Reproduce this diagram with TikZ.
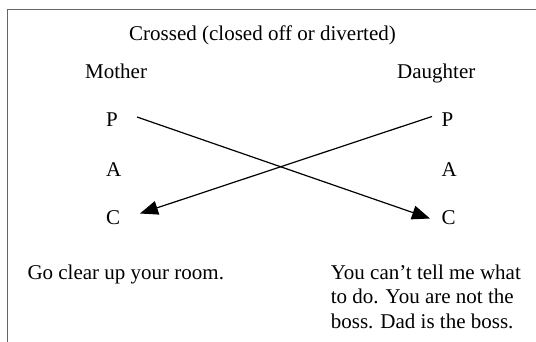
\documentclass[tikz,border=0pt]{standalone}
\usepackage{fontspec}
\setmainfont{Liberation Serif}
\usetikzlibrary{arrows.meta}
\begin{document}
\begin{tikzpicture}[x=1pt,y=-1pt,
  lbl/.style={anchor=base west,inner sep=0pt,font=\fontsize{21}{24}\selectfont},
  conn/.style={line width=1.2pt,-{Triangle[length=18pt,width=14pt]}},
  frame/.style={draw=black!60,line width=1pt}]
\useasboundingbox (0,0) rectangle (536,342);
\draw[frame] (7.3,342) -- (7.3,10) -- (536,10);
\node[lbl] (title) at (129,41) {Crossed (closed off or diverted)};
\node[lbl] (mother) at (85,79) {Mother};
\node[lbl] (daughter) at (397,79) {Daughter};
\node[lbl] (mP) at (106,126.5) {P};
\node[lbl] (mA) at (106,176.5) {A};
\node[lbl] (mC) at (106,224.5) {C};
\node[lbl] (dP) at (441.5,126.5) {P};
\node[lbl] (dA) at (441.5,176.5) {A};
\node[lbl] (dC) at (441.5,224.5) {C};
\coordinate (s1) at (137,117);
\coordinate (e1) at (430,218.5);
\coordinate (s2) at (432,116.5);
\coordinate (e2) at (140,213.5);
\draw[conn] (s1) -- (e1);
\draw[conn] (s2) -- (e2);
\node[lbl] (msay) at (27.3,279) {Go clear up your room.};
\node[lbl] (dsay1) at (330.7,279) {You can’t tell me what};
\node[lbl] (dsay2) at (330.7,303.5) {to do. You are not the};
\node[lbl] (dsay3) at (330.7,328) {boss. Dad is the boss.};
\end{tikzpicture}
\end{document}
